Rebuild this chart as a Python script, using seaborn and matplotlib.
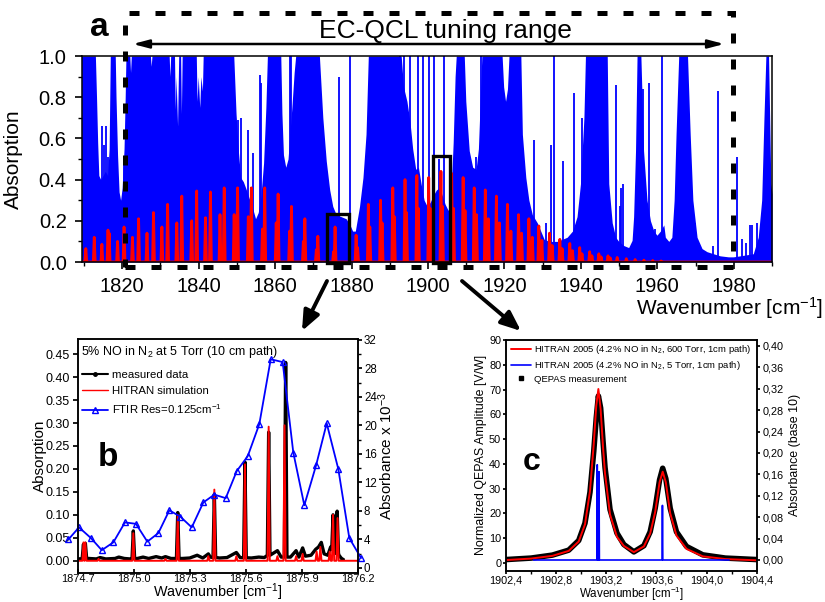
import numpy as np
import matplotlib
matplotlib.use("Agg")
import matplotlib.pyplot as plt
import seaborn as sns
from matplotlib.patches import Rectangle, FancyArrowPatch
from matplotlib.lines import Line2D
from matplotlib.ticker import MultipleLocator, FuncFormatter

# ---------------- panel a : overview spectrum ----------------
# H2O absorption envelope (blue), wavenumber / absorption
h2o_env_x = [1809.4, 1813.0, 1813.3, 1813.6, 1813.9, 1814.4, 1815.0, 1815.6, 1816.2, 1816.6, 1816.9,
             1818.2, 1818.4, 1818.8, 1819.2, 1819.6, 1820.0, 1820.5, 1820.8, 1821.0,
             1822.0, 1822.2, 1822.4, 1827.4, 1827.6, 1827.8, 1832.3, 1832.5, 1832.7,
             1833.7, 1833.9, 1834.1, 1834.5, 1834.8, 1835.3, 1835.5, 1835.7,
             1839.4, 1839.6, 1839.9, 1840.3, 1840.6, 1841.0, 1841.2,
             1849.2, 1849.8, 1850.4, 1851.0, 1851.7, 1852.5, 1853.4, 1854.3, 1854.9, 1855.6,
             1856.3, 1857.0, 1857.6, 1858.0,
             1861.5, 1861.8, 1862.2, 1862.8, 1863.4, 1863.8, 1864.4, 1865.0, 1865.4,
             1871.6, 1872.5, 1873.4, 1874.3, 1875.1, 1876.0, 1877.3, 1878.6, 1879.6, 1880.3,
             1881.0, 1882.1, 1883.0, 1883.8, 1884.4,
             1893.0, 1893.6, 1894.5, 1895.3, 1896.0, 1896.8, 1897.5, 1898.2, 1899.0, 1899.8,
             1900.6, 1901.3, 1902.2, 1903.0, 1903.6, 1904.5, 1905.3, 1906.0, 1906.6, 1907.1, 1907.4,
             1909.5, 1909.9, 1910.8, 1911.7, 1912.6, 1913.2, 1913.7, 1914.1,
             1919.4, 1919.8, 1920.3, 1920.8, 1921.2,
             1924.3, 1924.7, 1925.6, 1926.4, 1927.3, 1928.6, 1930.4, 1931.7, 1933.8, 1936.4,
             1937.8, 1939.0, 1939.9, 1940.8, 1941.2,
             1946.9, 1947.3, 1948.2, 1949.1, 1949.9, 1951.2, 1952.5, 1953.4, 1953.8, 1954.3, 1954.7,
             1955.7, 1956.4, 1957.3, 1958.2, 1959.1, 1959.9, 1960.8, 1961.7, 1962.1, 1963.0, 1963.8,
             1964.4, 1964.9, 1965.6, 1967.9, 1968.6, 1969.3, 1970.4, 1971.7, 1973.0, 1974.7,
             1976.4, 1978.6, 1979.9, 1981.7, 1985.1, 1986.4, 1987.3, 1987.9, 1988.4, 1989.1,
             1989.7, 1990.0]
h2o_env_y = [1.0, 1.0, 0.80, 0.58, 0.42, 0.40, 0.42, 0.44, 0.42, 0.55, 1.0,
             1.0, 0.80, 0.52, 0.34, 0.30, 0.36, 0.55, 0.80, 1.0,
             1.0, 0.92, 1.0, 1.0, 0.95, 1.0, 1.0, 0.90, 1.0,
             1.0, 0.74, 0.90, 0.66, 1.0, 1.0, 0.72, 1.0,
             1.0, 0.78, 0.90, 0.75, 0.90, 0.83, 1.0,
             1.0, 0.72, 0.54, 0.41, 0.39, 0.35, 0.30, 0.25, 0.21, 0.24,
             0.32, 0.48, 0.75, 1.0,
             1.0, 0.72, 0.52, 0.46, 0.50, 0.60, 0.75, 0.92, 1.0,
             1.0, 0.70, 0.49, 0.35, 0.27, 0.23, 0.22, 0.21, 0.18, 0.15,
             0.15, 0.27, 0.41, 0.62, 1.0,
             1.0, 0.85, 0.78, 0.68, 0.55, 0.45, 0.46, 0.38, 0.30, 0.27,
             0.29, 0.32, 0.35, 0.36, 0.33, 0.28, 0.25, 0.32, 0.58, 0.90, 1.0,
             1.0, 0.78, 0.54, 0.46, 0.45, 0.55, 0.80, 1.0,
             1.0, 0.85, 0.78, 0.84, 1.0,
             1.0, 0.62, 0.41, 0.30, 0.23, 0.19, 0.11, 0.10, 0.10, 0.12,
             0.15, 0.22, 0.38, 0.70, 1.0,
             1.0, 0.38, 0.19, 0.12, 0.10, 0.08, 0.07, 0.105, 0.22, 0.54, 1.0,
             1.0, 0.54, 0.30, 0.20, 0.15, 0.13, 0.15, 0.18, 0.12, 0.10, 0.12,
             0.30, 0.62, 1.0, 1.0, 0.62, 0.30, 0.12, 0.065, 0.05, 0.04,
             0.03, 0.025, 0.025, 0.03, 0.04, 0.12, 0.30, 0.70, 1.0, 1.0,
             0.38, 0.33]
# isolated H2O lines standing above the envelope
h2o_line_x = [1814.7, 1815.2, 1815.7, 1816.4, 1820.4, 1850.3, 1851.1, 1853.0, 1854.3, 1856.0,
              1856.4, 1862.95, 1863.8, 1864.3, 1876.7, 1879.5, 1892.8, 1893.7, 1895.2, 1897.3,
              1898.6, 1900.4, 1901.7, 1903.0, 1904.3, 1912.5, 1913.8, 1927.7, 1930.8, 1932.1,
              1933.1, 1935.4, 1938.2, 1940.4, 1949.2, 1950.2, 1950.5, 1951.1, 1956.3, 1957.7,
              1959.5, 1961.2, 1969.9, 1974.5, 1976.0, 1980.8, 1982.1, 1983.2, 1984.3, 1984.7,
              1986.0]
h2o_line_h = [0.66, 0.57, 0.66, 0.51, 0.48, 0.69, 0.70, 0.64, 0.53, 0.91,
              0.87, 0.45, 1.0, 1.0, 0.90, 1.0, 1.0, 1.0, 1.0, 1.0,
              1.0, 1.0, 1.0, 0.50, 1.0, 0.51, 1.0, 0.59, 0.19, 0.57,
              1.0, 0.49, 0.82, 0.70, 0.86, 0.27, 0.36, 0.38, 0.84, 0.87,
              0.16, 1.0, 0.19, 0.08, 0.83, 0.51, 0.11, 0.09, 0.18, 0.18,
              0.19]
# NO lines (red)
no_line_x = [1810.5, 1812.7, 1814.7, 1816.3, 1816.6, 1818.8, 1820.5, 1822.7, 1824.3, 1826.5,
             1828.2, 1830.4, 1831.9, 1834.3, 1835.6, 1838.2, 1839.5, 1841.8, 1843.1, 1845.6,
             1846.7, 1849.3, 1850.2, 1853.0, 1853.8, 1856.7, 1857.3, 1860.3, 1860.8, 1863.8,
             1864.3, 1867.4, 1867.8, 1870.8, 1871.2, 1875.3, 1875.7,
             1881.2, 1881.6, 1884.4, 1884.8, 1887.6, 1888.0, 1890.8, 1891.2, 1894.0, 1894.4,
             1897.1, 1897.5, 1900.2, 1900.6, 1903.4, 1903.8, 1906.2, 1906.7, 1909.2, 1909.7,
             1912.1, 1912.7, 1915.0, 1915.8, 1917.9, 1918.7, 1920.8, 1921.7, 1923.7, 1924.5,
             1926.4, 1927.3, 1929.0, 1929.8, 1931.8, 1932.5, 1934.5, 1935.1, 1937.1, 1937.8,
             1939.7, 1940.3, 1942.3, 1942.9, 1944.7, 1945.3, 1947.1, 1947.7, 1949.5, 1951.9,
             1954.2, 1956.5, 1958.8, 1961.0]
no_line_h = [0.065, 0.12, 0.086, 0.155, 0.14, 0.10, 0.17, 0.12, 0.21, 0.14,
             0.24, 0.17, 0.28, 0.19, 0.32, 0.20, 0.345, 0.215, 0.34, 0.23,
             0.36, 0.23, 0.36, 0.22, 0.36, 0.16, 0.36, 0.19, 0.33, 0.15,
             0.27, 0.10, 0.21, 0.06, 0.125, 0.05, 0.17,
             0.13, 0.07, 0.28, 0.17, 0.30, 0.19, 0.36, 0.22, 0.40, 0.24,
             0.42, 0.26, 0.41, 0.26, 0.44, 0.27, 0.43, 0.26, 0.41, 0.25,
             0.36, 0.23, 0.35, 0.21, 0.32, 0.19, 0.28, 0.15, 0.23, 0.14,
             0.21, 0.12, 0.175, 0.105, 0.14, 0.08, 0.11, 0.065, 0.09, 0.055,
             0.07, 0.04, 0.05, 0.03, 0.04, 0.025, 0.03, 0.02, 0.022, 0.016,
             0.012, 0.009, 0.007, 0.005]
a_xticks = [1820, 1840, 1860, 1880, 1900, 1920, 1940, 1960, 1980]

# ---------------- panel b : Q-branch detail ----------------
meas_base_x = [1874.700, 1874.760, 1874.800, 1874.820, 1874.850, 1874.900, 1874.920, 1874.950,
               1874.980, 1875.020, 1875.050, 1875.080, 1875.120, 1875.150, 1875.170, 1875.200,
               1875.260, 1875.300, 1875.340, 1875.370, 1875.400, 1875.410, 1875.460, 1875.500,
               1875.550, 1875.570, 1875.630, 1875.670, 1875.700, 1875.770, 1875.790, 1875.840,
               1875.870, 1875.885, 1875.905, 1875.920, 1875.950, 1875.975, 1875.990, 1876.005,
               1876.020, 1876.040, 1876.055, 1876.100, 1876.115, 1876.123]
meas_base_y = [0.004, 0.005, 0.004, 0.007, 0.004, 0.005, 0.008, 0.005,
               0.004, 0.005, 0.008, 0.005, 0.009, 0.006, 0.009, 0.005,
               0.005, 0.006, 0.012, 0.006, 0.015, 0.008, 0.006, 0.007,
               0.018, 0.007, 0.006, 0.008, 0.007, 0.022, 0.008, 0.008,
               0.022, 0.008, 0.028, 0.010, 0.012, 0.025, 0.030, 0.040,
               0.015, 0.012, 0.030, 0.012, 0.004, 0.003]
meas_peak_x = [1874.731, 1874.741, 1874.998, 1875.236, 1875.432, 1875.596, 1875.723, 1875.814,
               1876.068, 1876.090]
meas_peak_y = [0.036, 0.038, 0.065, 0.105, 0.145, 0.215, 0.280, 0.432, 0.100, 0.108]
sim_peak_x = [1874.731, 1874.741, 1874.812, 1874.998, 1875.170, 1875.236, 1875.400, 1875.432,
              1875.550, 1875.596, 1875.723, 1875.770, 1875.808, 1875.870, 1875.905, 1875.980,
              1876.000, 1876.050, 1876.068, 1876.092]
sim_peak_y = [0.040, 0.040, 0.004, 0.060, 0.004, 0.100, 0.010, 0.155,
              0.010, 0.210, 0.292, 0.010, 0.295, 0.010, 0.015, 0.020,
              0.030, 0.020, 0.100, 0.093]
ftir_x = [1874.650, 1874.707, 1874.771, 1874.829, 1874.891, 1874.953, 1875.012, 1875.073,
          1875.132, 1875.191, 1875.250, 1875.311, 1875.373, 1875.432, 1875.493, 1875.552,
          1875.611, 1875.673, 1875.734, 1875.798, 1875.855, 1875.914, 1875.977, 1876.034,
          1876.096, 1876.155, 1876.218]
ftir_y = [4.0, 5.7, 4.2, 2.5, 3.6, 6.4, 6.2, 3.7,
          4.9, 8.1, 7.2, 5.7, 9.2, 10.3, 9.8, 13.6,
          15.7, 20.2, 29.3, 28.9, 16.2, 8.8, 14.4, 20.3,
          13.9, 4.2, 1.4]
b_xticks = [1874.7, 1875.0, 1875.3, 1875.6, 1875.9, 1876.2]

# ---------------- panel c : QEPAS doublet ----------------
c_x = [1902.40, 1902.60, 1902.77, 1902.90, 1902.98, 1903.03, 1903.07, 1903.10, 1903.12,
       1903.137, 1903.155, 1903.175, 1903.19, 1903.23, 1903.285, 1903.34, 1903.42, 1903.50,
       1903.55, 1903.59, 1903.625, 1903.65, 1903.675, 1903.71, 1903.76, 1903.84, 1903.97,
       1904.15, 1904.40]
hitran_600 = [1.1, 1.7, 2.8, 4.8, 8.6, 15.5, 29.0, 48.0, 63.5,
              70.2, 62.0, 46.0, 36.0, 19.5, 10.5, 6.8, 4.3, 6.6,
              11.8, 20.5, 32.5, 36.8, 32.5, 20.0, 11.0, 5.6, 2.6,
              1.5, 1.0]
qepas = [1.3, 1.9, 3.1, 5.1, 9.0, 16.0, 28.5, 45.0, 58.5,
         67.4, 62.5, 48.5, 38.5, 21.5, 12.0, 7.4, 4.4, 6.9,
         12.5, 22.0, 33.5, 38.2, 34.0, 22.0, 12.5, 6.6, 3.2,
         1.9, 1.3]
hitran_5_x = [1903.128, 1903.142, 1903.648]
hitran_5_y = [0.178, 0.165, 0.102]
c_xticks = [1902.4, 1902.8, 1903.2, 1903.6, 1904.0, 1904.4]


def stick_trace(xs, hs, hw, x0, x1, base=0.0):
    """Polyline through narrow line profiles on a flat baseline."""
    px, py = [x0], [base]
    for i in np.argsort(xs):
        px += [xs[i] - hw, xs[i], xs[i] + hw]
        py += [base, hs[i], base]
    px.append(x1)
    py.append(base)
    return np.array(px), np.array(py)


def peaks_on_baseline(bx, by, pkx, pky, hw):
    """Insert narrow peaks into a measured baseline."""
    bx = np.asarray(bx); by = np.asarray(by)
    keep = np.ones(len(bx), bool)
    for p in pkx:
        keep &= np.abs(bx - p) > hw
    pts = list(zip(bx[keep], by[keep]))
    for p, h in zip(pkx, pky):
        b = float(np.interp(p, bx, by))
        pts += [(p - hw, b), (p, h), (p + hw, b)]
    pts.sort()
    return np.array([q[0] for q in pts]), np.array([q[1] for q in pts])


sns.set_theme(style="ticks")
plt.rcParams.update({
    "font.family": ["Liberation Sans", "DejaVu Sans"],
    "mathtext.fontset": "custom",
    "mathtext.rm": "Liberation Sans",
    "mathtext.it": "Liberation Sans:italic",
    "mathtext.bf": "Liberation Sans:bold",
    "axes.linewidth": 1.1,
    "xtick.direction": "out",
    "ytick.direction": "out",
    "xtick.color": "black",
    "ytick.color": "black",
    "axes.edgecolor": "black",
    "text.color": "black",
    "axes.labelcolor": "black",
})
BLUE, RED = "#0000ff", "#ff0000"

W, H = 825, 602
fig = plt.figure(figsize=(W / 100, H / 100), dpi=100)


def add_ax(l, t, r, b):
    return fig.add_axes([l / W, 1 - b / H, (r - l) / W, (b - t) / H])


def fpos(x, y):
    return (x / W, 1 - y / H)


# ===== panel a =====
axA = add_ax(82, 56, 772, 262)
axA.fill_between(h2o_env_x, h2o_env_y, 0, color=BLUE, lw=0, zorder=1)
axA.vlines(h2o_line_x, 0, h2o_line_h, color=BLUE, lw=1.3, zorder=1)
rx, ry = stick_trace(no_line_x, no_line_h, 0.25, 1809.0, 1991.0)
sns.lineplot(x=rx, y=ry, ax=axA, color=RED, lw=2.0, sort=False, estimator=None, zorder=2)
for x0, x1, top in [(1873.5, 1879.45, 0.235), (1901.3, 1905.75, 0.513)]:
    axA.add_patch(Rectangle((x0, -0.005), x1 - x0, top + 0.005, fill=False, ec="black",
                            lw=2.4, zorder=4, clip_on=False))
axA.set_xlim(1809.5, 1990)
axA.set_ylim(0, 1.0)
axA.set_xticks(a_xticks)
axA.xaxis.set_minor_locator(MultipleLocator(10))
axA.set_yticks(np.arange(0, 1.01, 0.2))
axA.yaxis.set_minor_locator(MultipleLocator(0.1))
axA.yaxis.set_major_formatter(FuncFormatter(lambda v, p: f"{v:.1f}"))
axA.tick_params(which="major", length=5, width=1.2, labelsize=14.5, pad=6)
axA.tick_params(which="minor", length=3, width=1.0)
axA.set_xlabel("")
axA.set_ylabel("Absorption", fontsize=15)
axA.yaxis.set_label_coords((23 - 82) / 690, 0.5)
fig.text(*fpos(823, 315), r"Wavenumber [cm$^{-1}$]", fontsize=15, ha="right",
         va="baseline")

# tuning range frame and arrow
fig.add_artist(Rectangle(fpos(125, 267), (733 - 125) / W, (267 - 13) / H,
                         transform=fig.transFigure, fill=False, ec="black", lw=3.6,
                         ls=(0, (2.0, 3.2)), zorder=10))
fig.add_artist(FancyArrowPatch(fpos(130, 44), fpos(727, 44), transform=fig.transFigure,
                               arrowstyle="<|-|>,head_length=0.95,head_width=0.25",
                               mutation_scale=10, lw=1.8, color="black", zorder=10))
fig.text(*fpos(445, 31), "EC-QCL tuning range", fontsize=19, ha="center", va="center")
fig.text(*fpos(99, 28), "a", fontsize=24, fontweight="bold", ha="center", va="center")

# zoom arrows
for (x0, y0), (x1, y1) in [((327, 281), (302, 331)), ((462, 281), (521, 331))]:
    fig.add_artist(FancyArrowPatch(fpos(x0, y0), fpos(x1, y1), transform=fig.transFigure,
                                   arrowstyle="-|>,head_length=1.2,head_width=0.5",
                                   mutation_scale=10, lw=2.8, color="black", zorder=10,
                                   shrinkA=0, shrinkB=0))

# ===== panel b =====
axB = add_ax(77.7, 339, 357.7, 572.7)
axB2 = axB.twinx()
mx, my = peaks_on_baseline(meas_base_x, meas_base_y, meas_peak_x, meas_peak_y, 0.007)
sns.lineplot(x=mx, y=my, ax=axB, color="black", lw=2.4, sort=False, estimator=None)
sx, sy = stick_trace(sim_peak_x, sim_peak_y, 0.006, 1874.7, 1876.2)
sns.lineplot(x=sx, y=sy, ax=axB, color=RED, lw=1.4, sort=False, estimator=None)
sns.lineplot(x=ftir_x, y=ftir_y, ax=axB2, color=BLUE, lw=1.3, marker="^", markersize=4.5,
             markerfacecolor="none", markeredgecolor=BLUE, markeredgewidth=1.0,
             sort=False, estimator=None, clip_on=False)
axB.set_xlim(1874.7, 1876.2)
axB.set_ylim(-0.026, 0.483)
axB2.set_ylim(-0.66, 32.14)
axB.set_xticks(b_xticks)
axB.xaxis.set_major_formatter(FuncFormatter(lambda v, p: f"{v:.1f}"))
axB.set_yticks(np.arange(0, 0.451, 0.05))
axB.yaxis.set_major_formatter(FuncFormatter(lambda v, p: f"{v:.2f}"))
axB2.set_yticks(np.arange(0, 33, 4))
axB2.yaxis.set_minor_locator(MultipleLocator(2))
axB.tick_params(axis="y", which="major", length=3.5, labelsize=9, pad=2)
axB.tick_params(axis="x", which="major", direction="in", length=3, labelsize=7.9, pad=0.6)
axB2.tick_params(axis="y", which="major", length=3, labelsize=8.3, pad=1.5)
axB2.tick_params(axis="y", which="minor", length=2)
axB.set_xlabel(r"Wavenumber [cm$^{-1}$]", fontsize=10.4, va="baseline")
axB.xaxis.set_label_coords(0.5, (572.7 - 597.0) / 233.7)
axB.set_ylabel("Absorption", fontsize=11, va="center")
axB.yaxis.set_label_coords((40 - 77.7) / 280, 0.5)
axB2.set_ylabel(r"Absorbance x 10$^{-3}$", fontsize=11, va="center", rotation=90)
axB2.yaxis.set_label_coords((386 - 77.7) / 280, 0.5)
fig.text(*fpos(81, 351.5), r"5% NO in N$_2$ at 5 Torr (10 cm path)", fontsize=9,
         ha="left", va="center")
b_handles = [Line2D([], [], color="black", lw=1.5, marker="o", ms=2.5),
             Line2D([], [], color=RED, lw=1.0),
             Line2D([], [], color=BLUE, lw=1.3, marker="^", ms=4, mfc="none", mec=BLUE)]
axB2.legend(b_handles, ["measured data", "HITRAN simulation", r"FTIR Res=0.125cm$^{-1}$"],
            loc="upper left", bbox_to_anchor=fpos(82, 370), bbox_transform=fig.transFigure,
            frameon=False, fontsize=8.2, handlelength=2.3, handletextpad=0.3,
            labelspacing=0.55, borderpad=0, borderaxespad=0)
fig.text(*fpos(108, 457), "b", fontsize=24, fontweight="bold", ha="center", va="center")

# ===== panel c =====
axC = add_ax(506, 340, 756.7, 570.7)
axC2 = axC.twinx()
sns.lineplot(x=c_x, y=qepas, ax=axC, color="black", lw=4.0, sort=False, estimator=None)
sns.lineplot(x=c_x, y=hitran_600, ax=axC, color=RED, lw=1.4, sort=False, estimator=None)
bx, by = stick_trace(hitran_5_x, hitran_5_y, 0.003, 1902.62, 1904.18)
sns.lineplot(x=bx, y=by, ax=axC2, color=BLUE, lw=1.2, sort=False, estimator=None)
axC.set_xlim(1902.4, 1904.4)
axC.set_ylim(-3.2, 90)
axC2.set_ylim(-0.020, 0.4112)
axC.set_xticks(c_xticks)
axC.xaxis.set_minor_locator(MultipleLocator(0.2))
axC.set_yticks(np.arange(0, 91, 10))
axC2.set_yticks(np.arange(0, 0.401, 0.04))
comma1 = FuncFormatter(lambda v, p: f"{v:.1f}".replace(".", ","))
comma2 = FuncFormatter(lambda v, p: f"{v:.2f}".replace(".", ","))
axC.xaxis.set_major_formatter(comma1)
axC2.yaxis.set_major_formatter(comma2)
axC.tick_params(which="major", length=2.5, labelsize=7.8, pad=1.0)
axC.tick_params(which="minor", length=1.8)
axC2.tick_params(which="major", length=2.5, labelsize=7.8, pad=1.5)
axC.set_xlabel(r"Wavenumber [cm$^{-1}$]", fontsize=8.4, va="baseline")
axC.xaxis.set_label_coords(0.5, (570.7 - 598.0) / 230.7)
axC.set_ylabel("Normalized QEPAS Amplitude [V/W]", fontsize=8.9, va="center")
axC.yaxis.set_label_coords((481 - 506) / 250.7, 0.5)
axC2.set_ylabel("Absorbance (base 10)", fontsize=8.9, va="center", rotation=90)
axC2.yaxis.set_label_coords((795 - 506) / 250.7, 0.5)
c_handles = [Line2D([], [], color=RED, lw=1.4),
             Line2D([], [], color=BLUE, lw=1.2),
             Line2D([], [], color="black", lw=0, marker="s", ms=3)]
axC2.legend(c_handles, [r"HITRAN 2005 (4.2% NO in N$_2$, 600 Torr, 1cm path)",
                        r"HITRAN 2005 (4.2% NO in N$_2$, 5 Torr, 1cm path)",
                        "QEPAS measurement"],
            loc="upper left", bbox_to_anchor=fpos(511, 343), bbox_transform=fig.transFigure,
            frameon=False, fontsize=6.8, handlelength=2.1,
            handletextpad=0.35, labelspacing=0.3, borderpad=0, borderaxespad=0)
fig.text(*fpos(532, 462), "c", fontsize=23, fontweight="bold", ha="center", va="center")

for ax in (axA, axB, axB2, axC, axC2):
    for s in ax.spines.values():
        s.set_visible(True)
        s.set_color("black")

fig.savefig("out.png", dpi=100)
